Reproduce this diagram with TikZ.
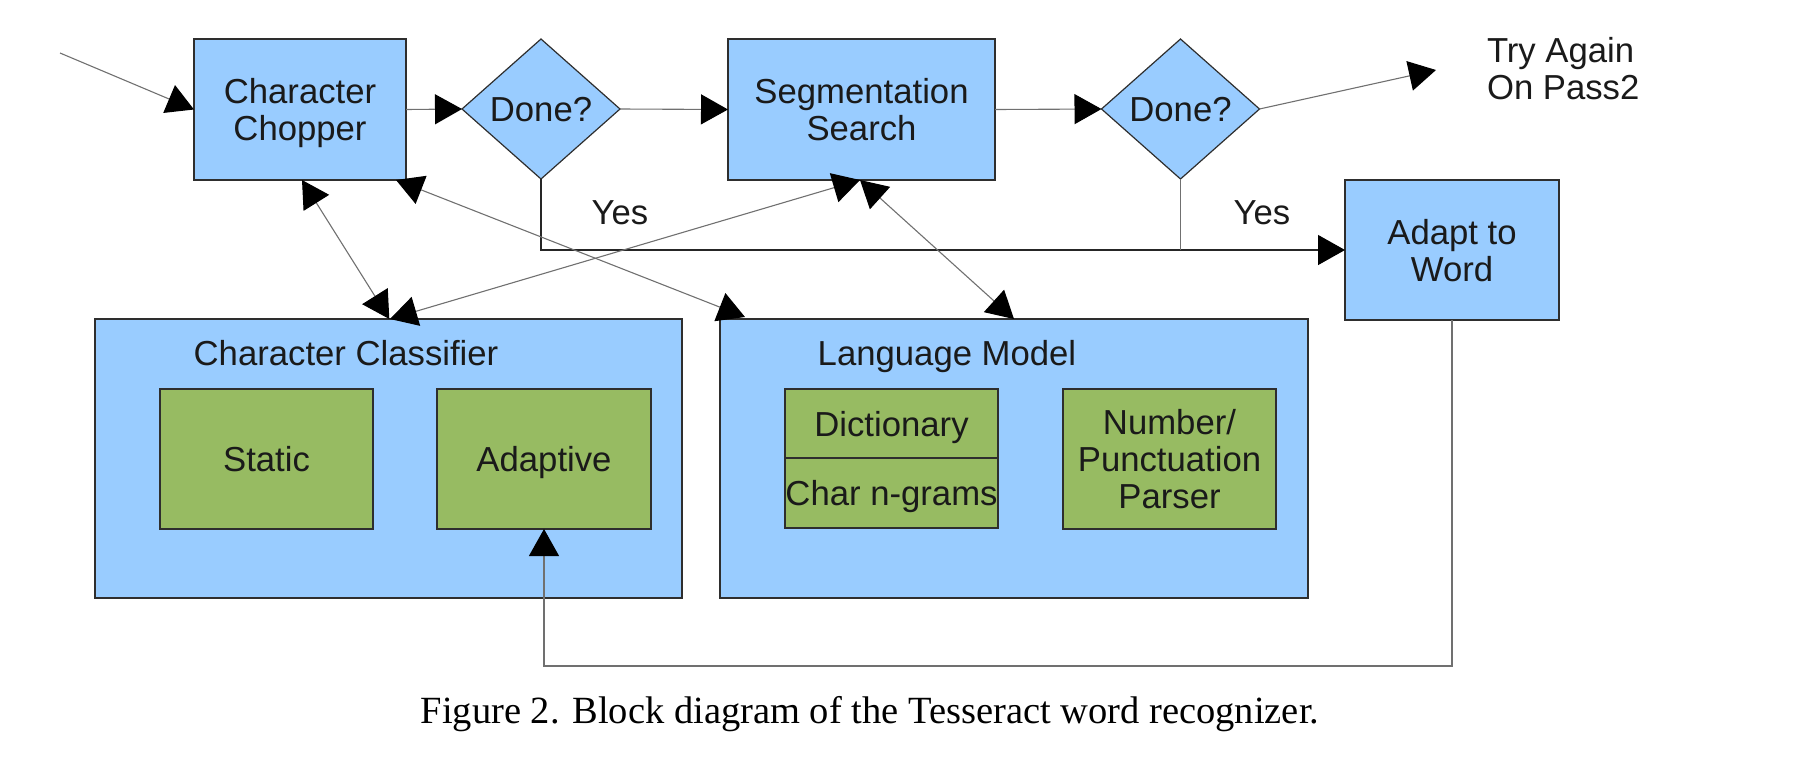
\documentclass[tikz,border=0pt]{standalone}
\usepackage{fontspec}
\setmainfont{Liberation Sans}
\newfontfamily\captionfont{Liberation Serif}
\usetikzlibrary{arrows.meta,shapes.geometric}
\definecolor{boxblue}{HTML}{99CCFF}
\definecolor{boxgreen}{HTML}{97BB62}
\definecolor{edgegray}{HTML}{2E2E2E}
\definecolor{wiregray}{HTML}{707070}
\definecolor{ink}{HTML}{1A1A1A}
\begin{document}
\begin{tikzpicture}[x=1pt,y=-1pt,
  every node/.style={inner sep=0pt, outer sep=0pt, text=ink, text depth=0pt,
    font=\fontsize{34.7}{37}\selectfont},
  bluebox/.style={draw=edgegray, line width=1.5pt, fill=boxblue, align=center},
  greenbox/.style={draw=edgegray, line width=1.5pt, fill=boxgreen, align=center},
  decision/.style={diamond, draw=edgegray, line width=1.2pt, fill=boxblue,
    minimum width=158pt, minimum height=140pt},
  wire/.style={draw=wiregray, line width=1.1pt},
  yesline/.style={draw=black!85, line width=1.3pt},
  tip/.style={-{Triangle[length=27pt,width=30pt,color=black]}},
  twotip/.style={{Triangle[length=27pt,width=30pt,color=black]}-{Triangle[length=27pt,width=30pt,color=black]}},
]
\useasboundingbox (0,0) rectangle (1820,766);

% main recognition loop
\node[bluebox, minimum width=212pt, minimum height=141pt] (chop) at (300,109.5) {Character\\Chopper};
\node[decision] (done1) at (541,109) {Done?};
\node[bluebox, minimum width=267pt, minimum height=141pt] (seg) at (861.5,109.5) {Segmentation\\Search};
\node[decision] (done2) at (1180.5,109) {Done?};
\node[anchor=west, align=left] (retry) at (1487,68.5) {Try Again\\On Pass2};
\node[bluebox, minimum width=214pt, minimum height=140pt] (adapt) at (1452,250) {Adapt to\\Word};
\node (yes1) at (620,213) {Yes};
\node (yes2) at (1262,213) {Yes};

% classifier block
\node[bluebox, minimum width=587pt, minimum height=279pt] (cls) at (388.5,458.5) {};
\node (clslabel) at (346,353) {Character Classifier};
\node[greenbox, minimum width=213pt, minimum height=140pt] (static) at (266.5,459) {Static};
\node[greenbox, minimum width=214pt, minimum height=140pt] (adaptive) at (544,459) {Adaptive};

% language model block
\node[bluebox, minimum width=588pt, minimum height=279pt] (lm) at (1014,458.5) {};
\node (lmlabel) at (947,353) {Language Model};
\node[greenbox, minimum width=213pt, minimum height=69pt] (dict) at (891.5,423.5) {Dictionary};
\node[greenbox, minimum width=213pt, minimum height=70pt] (ngram) at (891.5,493) {Char n-grams};
\node[greenbox, minimum width=213pt, minimum height=140pt] (punct) at (1169.5,459) {Number/\\Punctuation\\Parser};

% caption
\node[font=\captionfont\fontsize{38.5}{44}\selectfont, text=black, anchor=base] (caption)
  at (870,723) {Figure 2. Block diagram of the Tesseract word recognizer.};

% connectors
\coordinate (src) at (60,53);
\coordinate (retrytip) at (1436,70);
\draw[wire, tip] (src) -- (chop.west);
\draw[wire, tip] (chop.east) -- (done1.west);
\draw[wire, tip] (done1.east) -- (seg.west);
\draw[wire, tip] (seg.east) -- (done2.west);
\draw[wire, tip] (done2.east) -- (retrytip);
\draw[yesline, tip] (done1.south) |- (adapt.west);
\draw[wire] (done2.south) -- (done2.south |- adapt.west);
\draw[wire, tip] (adapt.south) -- ++(0,346) -| (adaptive.south);
\draw[wire, twotip] ([xshift=2pt]chop.south) -- ([xshift=0.8pt]cls.north);
\draw[wire, twotip] ([xshift=-1.5pt]seg.south) -- ([xshift=1.5pt]cls.north);
\draw[wire, twotip] ([xshift=-1.5pt]seg.south) -- (lm.north);
\draw[wire, twotip] ([xshift=-10pt]chop.south east) -- ([xshift=25pt,yshift=2pt]lm.north west);
\end{tikzpicture}
\end{document}
